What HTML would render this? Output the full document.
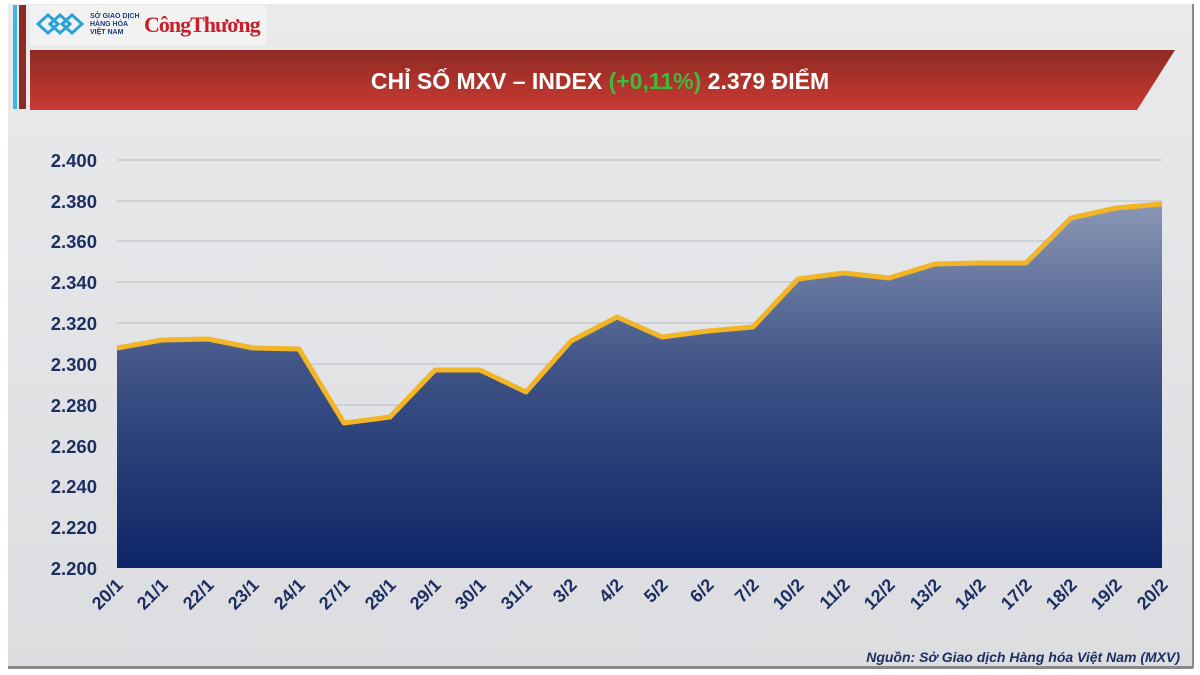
<!DOCTYPE html>
<html><head><meta charset="utf-8"><style>
html,body{margin:0;padding:0;background:#fff}
svg{display:block}
</style></head><body>
<svg width="1200" height="675" viewBox="0 0 1200 675" xmlns="http://www.w3.org/2000/svg" font-family="'Liberation Sans', 'DejaVu Sans', sans-serif">
<defs>
<linearGradient id="bg" x1="0" y1="0" x2="0" y2="1"><stop offset="0" stop-color="#e9eaec"/><stop offset="1" stop-color="#dcdde0"/></linearGradient>
<linearGradient id="ban" x1="0" y1="0" x2="0" y2="1"><stop offset="0" stop-color="#8e2a24"/><stop offset="1" stop-color="#c93a33"/></linearGradient>
<linearGradient id="area" x1="0" y1="0" x2="0" y2="1"><stop offset="0" stop-color="#8a97b5"/><stop offset="0.45" stop-color="#3f5386"/><stop offset="1" stop-color="#0c2566"/></linearGradient>
</defs>
<rect width="1200" height="675" fill="#fff"/>
<rect x="8" y="4" width="1185" height="664" fill="url(#bg)"/>
<rect x="8" y="666" width="1185" height="3" fill="#8a8a8a"/>
<rect x="1192" y="4" width="2" height="664" fill="#8a8a8a"/>
<rect x="13" y="5" width="4" height="104" fill="#3fb4e0"/>
<rect x="19" y="5" width="7" height="104" fill="#8e2a24"/>
<rect x="30" y="5" width="236" height="40" fill="#f2f2f2"/>
<g fill="none" stroke="#2aa3d8" stroke-width="3"><path d="M38 24 l10 -9 l10 9 l-10 9z M50 24 l10 -9 l10 9 l-10 9z M62 24 l10 -9 l10 9 l-10 9z"/></g>
<text x="90" y="18" font-size="7" font-weight="bold" fill="#1c3d7a">SỞ GIAO DỊCH</text>
<text x="90" y="26" font-size="7" font-weight="bold" fill="#1c3d7a">HÀNG HÓA</text>
<text x="90" y="34" font-size="7" font-weight="bold" fill="#1c3d7a">VIỆT NAM</text>
<text x="144" y="32" font-size="22" font-family="'Liberation Serif',serif" font-weight="bold" fill="#c8202a" letter-spacing="-1">CôngThương</text>
<polygon points="30,50 1175,50 1137,110 30,110" fill="url(#ban)"/>
<text x="600" y="89" text-anchor="middle" font-size="23" font-weight="bold" fill="#fff">CHỈ SỐ MXV – INDEX <tspan fill="#3dbb3d">(+0,11%)</tspan> 2.379 ĐIỂM</text>
<g stroke="#b8bcc6" stroke-width="1">
<line x1="117" x2="1162" y1="160" y2="160"/><line x1="117" x2="1162" y1="201" y2="201"/><line x1="117" x2="1162" y1="241" y2="241"/><line x1="117" x2="1162" y1="282" y2="282"/><line x1="117" x2="1162" y1="323" y2="323"/><line x1="117" x2="1162" y1="364" y2="364"/><line x1="117" x2="1162" y1="405" y2="405"/><line x1="117" x2="1162" y1="446" y2="446"/><line x1="117" x2="1162" y1="486" y2="486"/><line x1="117" x2="1162" y1="527" y2="527"/>
</g>
<polygon fill="url(#area)" points="117,348 162,340 208,339 253,348 299,349 344,423 390,417 435,370 480,370 526,392 571,341 617,317 662,337 708,331 753,327 798,279 844,273 889,278 935,264 980,263 1026,263 1071,218 1116,208 1162,204 1162,568 117,568"/>
<polyline fill="none" stroke="#f2b526" stroke-width="5" stroke-linejoin="round" points="117,348 162,340 208,339 253,348 299,349 344,423 390,417 435,370 480,370 526,392 571,341 617,317 662,337 708,331 753,327 798,279 844,273 889,278 935,264 980,263 1026,263 1071,218 1116,208 1162,204"/>
<g font-size="18.5" font-weight="bold" fill="#1c2f63" text-anchor="end">
<text x="97" y="167">2.400</text><text x="97" y="208">2.380</text><text x="97" y="248">2.360</text><text x="97" y="289">2.340</text><text x="97" y="330">2.320</text><text x="97" y="371">2.300</text><text x="97" y="412">2.280</text><text x="97" y="453">2.260</text><text x="97" y="493">2.240</text><text x="97" y="534">2.220</text><text x="97" y="575">2.200</text>
</g>
<g font-size="18" font-weight="bold" fill="#1c2f63" text-anchor="end">
<text transform="translate(124,586) rotate(-45)">20/1</text>
<text transform="translate(169,586) rotate(-45)">21/1</text>
<text transform="translate(215,586) rotate(-45)">22/1</text>
<text transform="translate(260,586) rotate(-45)">23/1</text>
<text transform="translate(306,586) rotate(-45)">24/1</text>
<text transform="translate(351,586) rotate(-45)">27/1</text>
<text transform="translate(397,586) rotate(-45)">28/1</text>
<text transform="translate(442,586) rotate(-45)">29/1</text>
<text transform="translate(487,586) rotate(-45)">30/1</text>
<text transform="translate(533,586) rotate(-45)">31/1</text>
<text transform="translate(578,586) rotate(-45)">3/2</text>
<text transform="translate(624,586) rotate(-45)">4/2</text>
<text transform="translate(669,586) rotate(-45)">5/2</text>
<text transform="translate(715,586) rotate(-45)">6/2</text>
<text transform="translate(760,586) rotate(-45)">7/2</text>
<text transform="translate(805,586) rotate(-45)">10/2</text>
<text transform="translate(851,586) rotate(-45)">11/2</text>
<text transform="translate(896,586) rotate(-45)">12/2</text>
<text transform="translate(942,586) rotate(-45)">13/2</text>
<text transform="translate(987,586) rotate(-45)">14/2</text>
<text transform="translate(1033,586) rotate(-45)">17/2</text>
<text transform="translate(1078,586) rotate(-45)">18/2</text>
<text transform="translate(1123,586) rotate(-45)">19/2</text>
<text transform="translate(1169,586) rotate(-45)">20/2</text>
</g>
<text x="1180" y="662" text-anchor="end" font-size="14" font-style="italic" font-weight="bold" fill="#1c2f63">Nguồn: Sở Giao dịch Hàng hóa Việt Nam (MXV)</text>
</svg>
</body></html>
